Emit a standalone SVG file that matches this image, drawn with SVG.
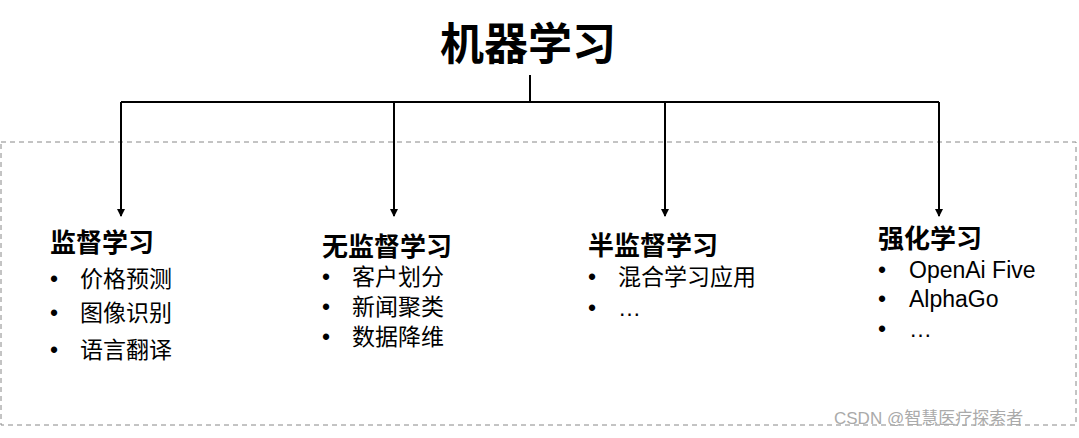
<svg xmlns="http://www.w3.org/2000/svg" width="1079" height="438" viewBox="0 0 1079 438">
<style>
text{font-family:"Liberation Sans","Noto Sans CJK SC",sans-serif;fill:#000}
.t{font-size:26px;font-weight:bold}
.i{font-size:23px}
.c{stroke:#000;stroke-width:2;fill:none}
</style>
<defs><marker id="a" markerWidth="8" markerHeight="8" refX="7" refY="4" orient="auto" markerUnits="userSpaceOnUse"><path d="M0,0L8,4L0,8z" fill="#000"/></marker></defs>
<rect x="1" y="142" width="1075" height="283" fill="none" stroke="#888" stroke-dasharray="5,4"/>
<g id="root"><text x="528" y="60" text-anchor="middle" style="font-size:44px;font-weight:bold">机器学习</text></g>
<g id="connectors">
<path class="c" d="M530,75V102M121,102H939"/>
<path class="c" d="M121,102V216" marker-end="url(#a)"/>
<path class="c" d="M394,102V216" marker-end="url(#a)"/>
<path class="c" d="M665,102V216" marker-end="url(#a)"/>
<path class="c" d="M939,102V216" marker-end="url(#a)"/>
</g>
<g id="n1"><text class="t" x="50" y="252">监督学习</text>
<text class="i" x="50" y="287">•<tspan x="80">价格预测</tspan></text>
<text class="i" x="50" y="321">•<tspan x="80">图像识别</tspan></text>
<text class="i" x="50" y="358">•<tspan x="80">语言翻译</tspan></text></g>
<g id="n2"><text class="t" x="322" y="256">无监督学习</text>
<text class="i" x="322" y="285">•<tspan x="352">客户划分</tspan></text>
<text class="i" x="322" y="315">•<tspan x="352">新闻聚类</tspan></text>
<text class="i" x="322" y="345">•<tspan x="352">数据降维</tspan></text></g>
<g id="n3"><text class="t" x="588" y="255">半监督学习</text>
<text class="i" x="588" y="285">•<tspan x="618">混合学习应用</tspan></text>
<text class="i" x="588" y="316">•<tspan x="618">…</tspan></text></g>
<g id="n4"><text class="t" x="878" y="248">强化学习</text>
<text class="i" x="878" y="278">•<tspan x="909">OpenAi Five</tspan></text>
<text class="i" x="878" y="307">•<tspan x="909">AlphaGo</tspan></text>
<text class="i" x="878" y="337">•<tspan x="909">…</tspan></text></g>
<text x="834" y="424" style="font-size:17px;fill:#aaa">CSDN @智慧医疗探索者</text>
</svg>
